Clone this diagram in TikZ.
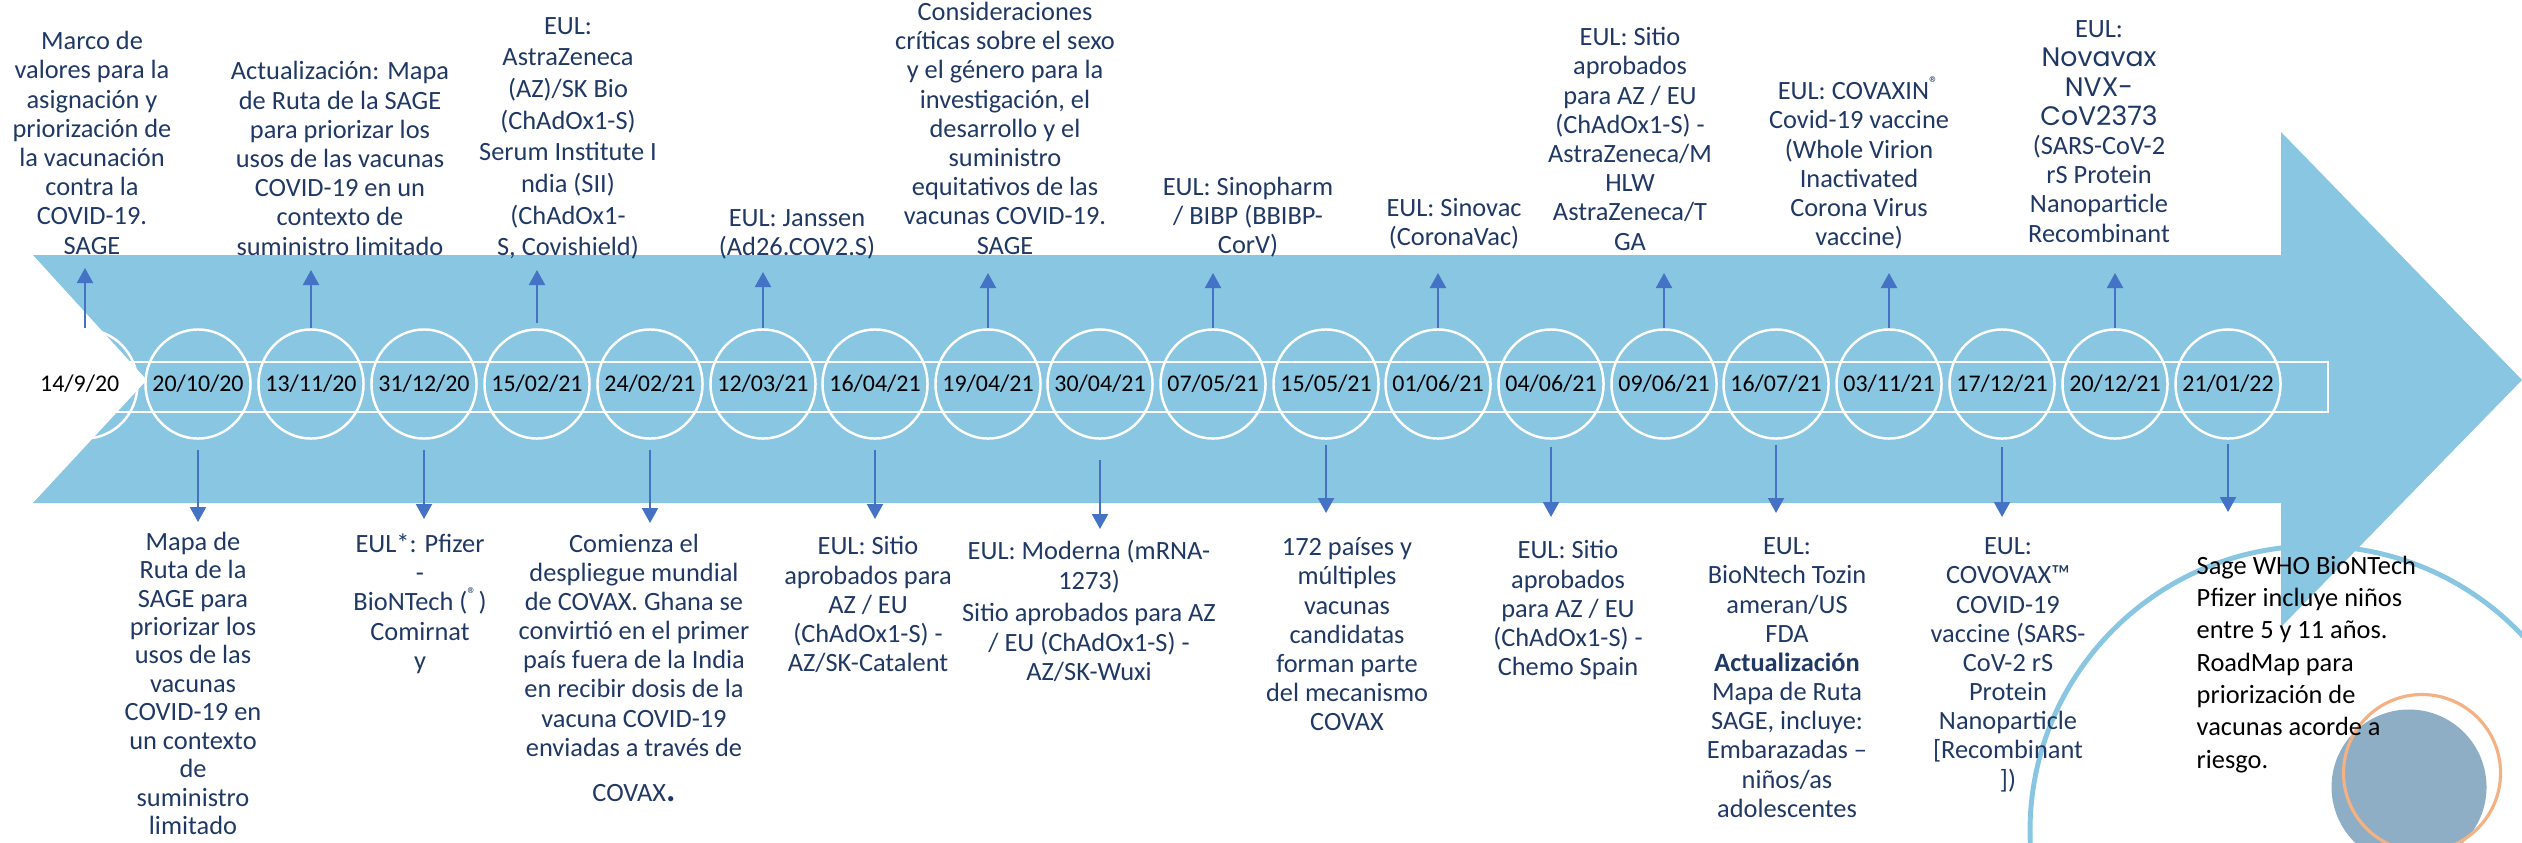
\documentclass[tikz,border=0pt]{standalone}
\usepackage{fontspec}
\setmainfont{Carlito}
\newfontfamily\novafont{Poppins}
\usetikzlibrary{arrows.meta,shapes.geometric}

\definecolor{bandblue}{HTML}{88C6E2}
\definecolor{tipblue}{HTML}{4472C4}
\definecolor{navytext}{HTML}{1F3864}
\definecolor{dotfill}{HTML}{8EAEC6}
\definecolor{ringorange}{HTML}{F4B183}

\newcommand{\datelbl}[1]{\makebox[0pt]{#1}}
\newcommand{\regsup}{\textsuperscript{®}}

\tikzset{
	bubble/.style={ellipse, draw=white, line width=0.7pt, minimum width=1.05cm, minimum height=1.09cm, inner sep=0pt, font=\fontsize{6.8}{8}\selectfont},
	uparrow/.style={draw=tipblue, line width=0.6pt, -{Triangle[width=0.16cm,length=0.15cm]}},
	downarrow/.style={uparrow, shorten <=0.1cm},
	eventtop/.style={align=center, text=navytext, inner sep=0pt, anchor=south, font=\fontsize{7.5}{8.3}\selectfont},
	eventbot/.style={eventtop, anchor=north},
}

\begin{document}
\begin{tikzpicture}[x=0.01cm, y=-0.01cm]
	\useasboundingbox (0,0) rectangle (2522,842);

	% big arrow and date strip
	\fill[bandblue] (33,255) -- (2281,255) -- (2281,132) -- (2522,380) -- (2281,627) -- (2281,503) -- (33,503) -- (147,380) -- cycle;
	\draw[white, line width=0.7pt] (33,362) rectangle (2328,412);

	\node[bubble] (d0) at (85,384) {\datelbl{\hspace{-3pt}14/9/20}};
	\node[bubble] (d1) at (198,384) {\datelbl{20/10/20}};
	\node[bubble] (d2) at (311,384) {\datelbl{13/11/20}};
	\node[bubble] (d3) at (424,384) {\datelbl{31/12/20}};
	\node[bubble] (d4) at (537,384) {\datelbl{15/02/21}};
	\node[bubble] (d5) at (650,384) {\datelbl{24/02/21}};
	\node[bubble] (d6) at (763,384) {\datelbl{12/03/21}};
	\node[bubble] (d7) at (875,384) {\datelbl{16/04/21}};
	\node[bubble] (d8) at (988,384) {\datelbl{19/04/21}};
	\node[bubble] (d9) at (1100,384) {\datelbl{30/04/21}};
	\node[bubble] (d10) at (1213,384) {\datelbl{07/05/21}};
	\node[bubble] (d11) at (1326,384) {\datelbl{15/05/21}};
	\node[bubble] (d12) at (1438,384) {\datelbl{01/06/21}};
	\node[bubble] (d13) at (1551,384) {\datelbl{04/06/21}};
	\node[bubble] (d14) at (1664,384) {\datelbl{09/06/21}};
	\node[bubble] (d15) at (1776,384) {\datelbl{16/07/21}};
	\node[bubble] (d16) at (1889,384) {\datelbl{03/11/21}};
	\node[bubble] (d17) at (2002,384) {\datelbl{17/12/21}};
	\node[bubble] (d18) at (2115,384) {\datelbl{20/12/21}};
	\node[bubble] (d19) at (2228,384) {\datelbl{21/01/22}};

	% arrows up
	\coordinate (u0) at (85,268);
	\coordinate (u2) at (311,270);
	\coordinate (u4) at (537,270);
	\coordinate (u6) at (763,272);
	\coordinate (u8) at (988,273);
	\coordinate (u10) at (1213,273);
	\coordinate (u12) at (1438,273);
	\coordinate (u14) at (1664,273);
	\coordinate (u16) at (1889,273);
	\coordinate (u18) at (2115,273);
	\draw[uparrow] (d0.north) -- (u0);
	\draw[uparrow] (d2.north) -- (u2);
	\draw[uparrow] ([yshift=0.05cm]d4.north) -- (u4);
	\draw[uparrow] (d6.north) -- (u6);
	\draw[uparrow] (d8.north) -- (u8);
	\draw[uparrow] (d10.north) -- (u10);
	\draw[uparrow] (d12.north) -- (u12);
	\draw[uparrow] (d14.north) -- (u14);
	\draw[uparrow] (d16.north) -- (u16);
	\draw[uparrow] (d18.north) -- (u18);

	% arrows down
	\coordinate (b1) at (198,522);
	\coordinate (b3) at (424,519);
	\coordinate (b5) at (650,523);
	\coordinate (b7) at (875,519);
	\coordinate (b9) at (1100,529);
	\coordinate (b11) at (1326,513);
	\coordinate (b13) at (1551,517);
	\coordinate (b15) at (1776,513);
	\coordinate (b17) at (2002,517);
	\coordinate (b19) at (2228,512);
	\draw[downarrow] (d1.south) -- (b1);
	\draw[downarrow] (d3.south) -- (b3);
	\draw[downarrow] (d5.south) -- (b5);
	\draw[downarrow] (d7.south) -- (b7);
	\draw[downarrow, shorten <=0.2cm] (d9.south) -- (b9);
	\draw[downarrow, shorten <=0.05cm] (d11.south) -- (b11);
	\draw[downarrow, shorten <=0.07cm] (d13.south) -- (b13);
	\draw[downarrow, shorten <=0.05cm] (d15.south) -- (b15);
	\draw[downarrow, shorten <=0.07cm] (d17.south) -- (b17);
	\draw[downarrow, shorten <=0.04cm] (d19.south) -- (b19);

	% decoration circles
	\draw[bandblue, line width=1.4pt] (2315,831) circle (285);
	\fill[dotfill] (2409,787) circle (77.5);
	\draw[ringorange, line width=0.9pt] (2422,773) circle (78.5);

	% events above
	\node[eventtop] (marco) at (92,255) {Marco de\\valores para la\\asignación y\\priorización de\\la vacunación\\contra la\\COVID-19.\\SAGE};
	\node[eventtop] (mapaup) at (340,256) {Actualización: Mapa\\de Ruta de la SAGE\\para priorizar los\\usos de las vacunas\\COVID-19 en un\\contexto de\\suministro limitado};
	\node[eventtop, font=\fontsize{7.5}{9}\selectfont] (astra) at (568,260) {EUL:\\AstraZeneca\\(AZ)/SK Bio\\(ChAdOx1-S)\\Serum Institute I\\ndia (SII)\\(ChAdOx1-\\S, Covishield)};
	\node[eventtop] (janssen) at (797,260) {EUL: Janssen\\(Ad26.COV2.S)};
	\node[eventtop] (sexo) at (1005,255) {Consideraciones\\críticas sobre el sexo\\y el género para la\\investigación, el\\desarrollo y el\\suministro\\equitativos de las\\vacunas COVID-19.\\SAGE};
	\node[eventtop] (sinopharm) at (1248,258) {EUL: Sinopharm\\/ BIBP (BBIBP-\\CorV)};
	\node[eventtop] (sinovac) at (1454,250) {EUL: Sinovac\\(CoronaVac)};
	\node[eventtop] (mhlw) at (1630,251) {EUL: Sitio\\aprobados\\para AZ / EU\\(ChAdOx1-S) -\\AstraZeneca/M\\HLW\\AstraZeneca/T\\GA};
	\node[eventtop] (covaxin) at (1859,250) {EUL: COVAXIN\regsup\\Covid-19 vaccine\\(Whole Virion\\Inactivated\\Corona Virus\\vaccine)};
	\node[eventtop] (novavax) at (2099,243) {EUL:\\{\novafont\fontsize{7.6}{8.3}\selectfont Novavax}\\{\novafont\fontsize{7.6}{8.3}\selectfont NVX-}\\{\novafont\fontsize{7.6}{8.3}\selectfont CoV2373}\\(SARS-CoV-2\\rS Protein\\Nanoparticle\\Recombinant};

	% events below
	\node[eventbot, font=\fontsize{7.5}{8.1}\selectfont] (mapadown) at (193,531) {Mapa de\\Ruta de la\\SAGE para\\priorizar los\\usos de las\\vacunas\\COVID-19 en\\un contexto\\de\\suministro\\limitado};
	\node[eventbot] (pfizer) at (420,533) {EUL*: Pfizer\\-\\BioNTech (\regsup)\\Comirnat\\y};
	\node[eventbot] (despliegue) at (634,533) {Comienza el\\despliegue mundial\\de COVAX. Ghana se\\convirtió en el primer\\país fuera de la India\\en recibir dosis de la\\vacuna COVID-19\\enviadas a través de\\[4.5pt]COVAX{\fontsize{10}{8}\selectfont\bfseries .}};
	\node[eventbot] (catalent) at (868,536) {EUL: Sitio\\aprobados para\\AZ / EU\\(ChAdOx1-S) -\\AZ/SK-Catalent};
	\node[eventbot] (moderna) at (1089,540) {EUL: Moderna (mRNA-\\1273)\\[1pt]Sitio aprobados para AZ\\/ EU (ChAdOx1-S) -\\AZ/SK-Wuxi};
	\node[eventbot] (paises) at (1347,537) {172 países y\\múltiples\\vacunas\\candidatas\\forman parte\\del mecanismo\\COVAX};
	\node[eventbot] (chemo) at (1568,540) {EUL: Sitio\\aprobados\\para AZ / EU\\(ChAdOx1-S) -\\Chemo Spain};
	\node[eventbot] (tozinameran) at (1787,537) {EUL:\\BioNtech Tozin\\ameran/US\\FDA\\\textbf{Actualización}\\Mapa de Ruta\\SAGE, incluye:\\Embarazadas –\\niños/as\\adolescentes};
	\node[eventbot] (covovax) at (2008,537) {EUL:\\COVOVAX™\\COVID-19\\vaccine (SARS-\\CoV-2 rS\\Protein\\Nanoparticle\\{}[Recombinant\\])};
	\node[anchor=north west, align=left, inner sep=0pt, font=\fontsize{7.5}{9.2}\selectfont] (ninos) at (2196,555) {Sage WHO BioNTech\\Pfizer incluye niños\\entre 5 y 11 años.\\RoadMap para\\priorización de\\vacunas acorde a\\riesgo.};

\end{tikzpicture}
\end{document}
